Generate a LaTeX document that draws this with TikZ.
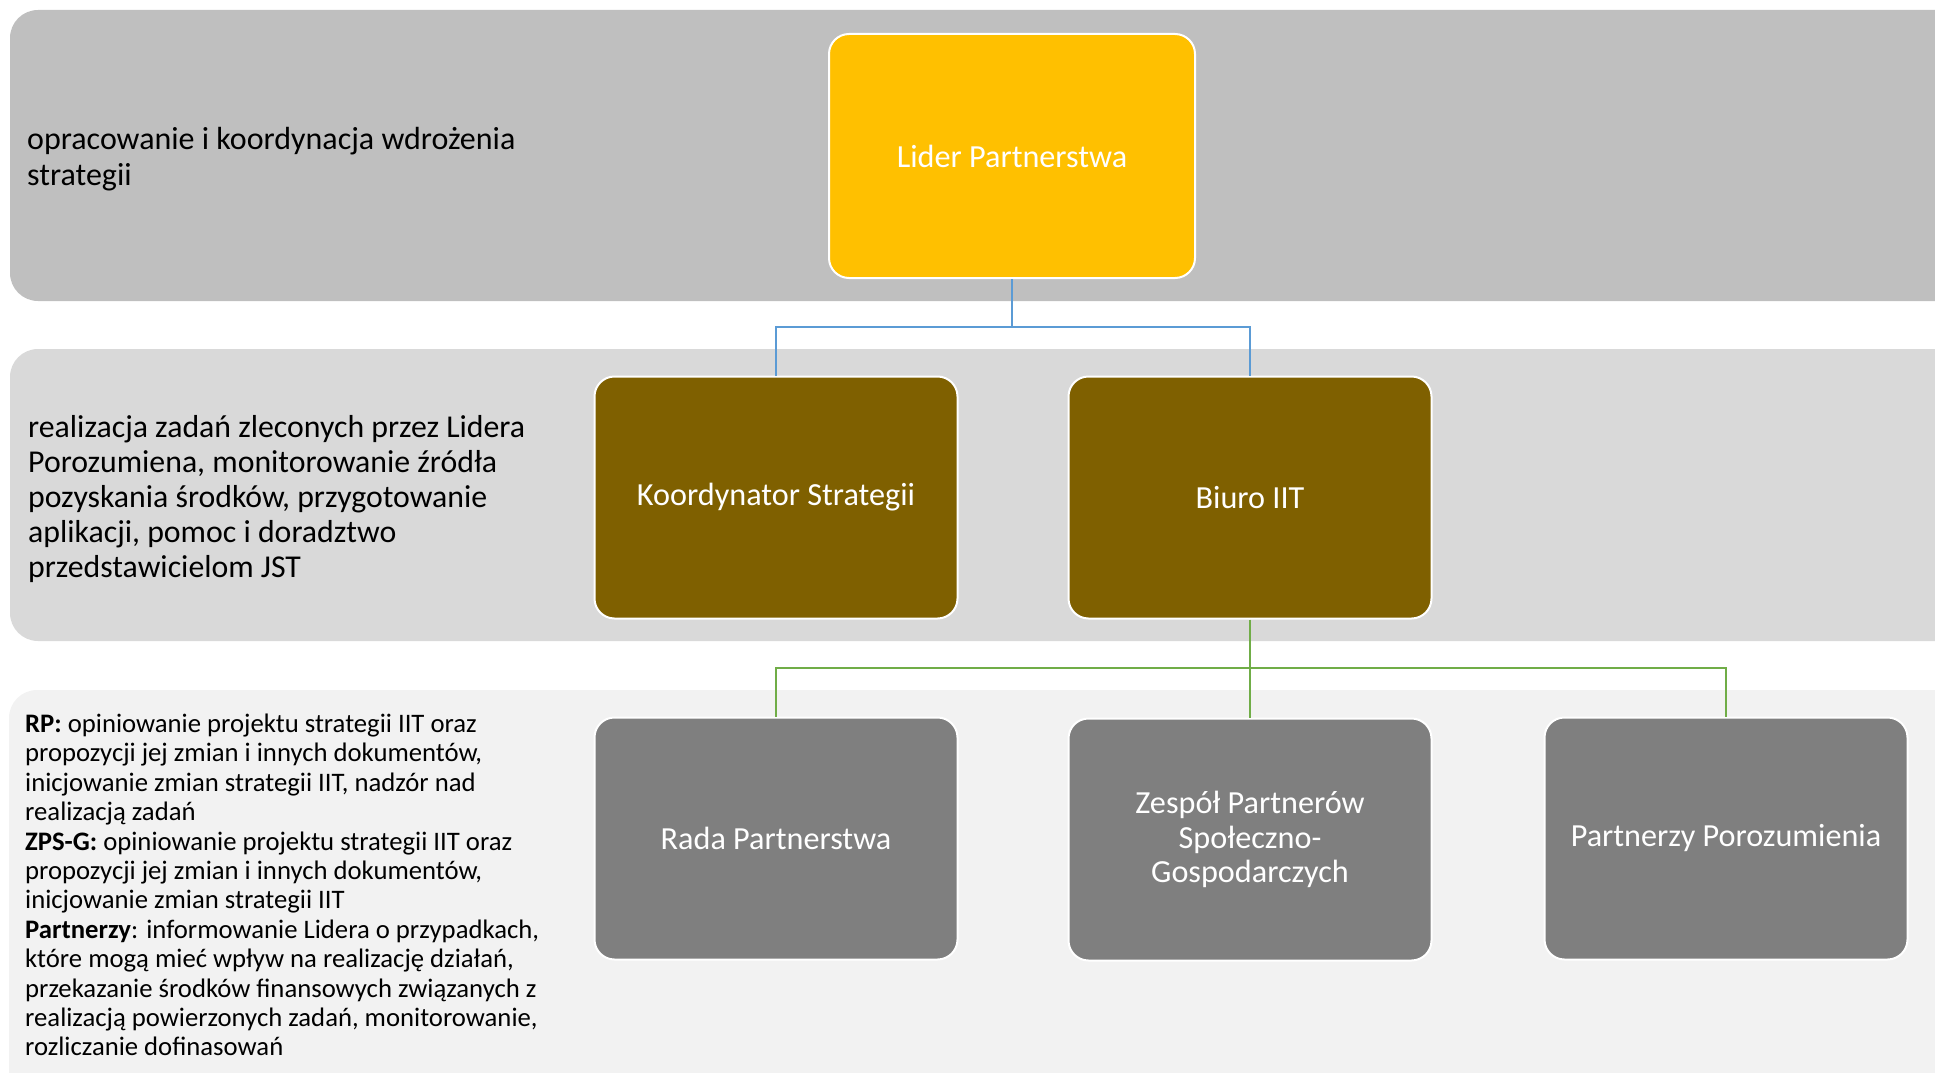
\documentclass[tikz,border=0pt]{standalone}
\usepackage{fontspec}
\setmainfont{Carlito}
\definecolor{bandA}{HTML}{BFBFBF}
\definecolor{bandB}{HTML}{D9D9D9}
\definecolor{bandC}{HTML}{F2F2F2}
\definecolor{gold}{HTML}{FFC000}
\definecolor{brownbox}{HTML}{7F6000}
\definecolor{boxgray}{HTML}{7F7F7F}
\definecolor{lineblue}{HTML}{5B9BD5}
\definecolor{linegreen}{HTML}{70AD47}
\begin{document}
\begin{tikzpicture}[x=1pt,y=-1pt,
  band/.style={rounded corners=28pt},
  orgbox/.style={draw=white, line width=2pt, rounded corners=20pt, minimum width=363pt, minimum height=242pt, text=white, font=\fontsize{32.2}{34.6}\selectfont, align=center, inner sep=0pt},
  conn/.style={line width=2.5pt},
  desc/.style={anchor=west, align=left, inner sep=0pt, text=black}]
\useasboundingbox (0,0) rectangle (1935,1073);
\fill[bandA, band] (10,10) rectangle (1965,301);
\fill[bandB, band] (10,349) rectangle (1965,641);
\fill[bandC, band] (9,690) rectangle (1965,1100);

\node[desc, font=\fontsize{32}{36}\selectfont] (t1) at (27,159) {opracowanie i koordynacja wdrożenia\\strategii};
\node[desc, font=\fontsize{31.8}{35}\selectfont] (t2) at (28,499) {realizacja zadań zleconych przez Lidera\\Porozumiena, monitorowanie źródła\\pozyskania środków, przygotowanie\\aplikacji, pomoc i doradztwo\\przedstawicielom JST};
\node[desc, font=\fontsize{26.7}{29.4}\selectfont] (t3) at (25,885) {\textbf{RP:} opiniowanie projektu strategii IIT oraz\\propozycji jej zmian i innych dokumentów,\\inicjowanie zmian strategii IIT, nadzór nad\\realizacją zadań\\\textbf{ZPS-G:} opiniowanie projektu strategii IIT oraz\\propozycji jej zmian i innych dokumentów,\\inicjowanie zmian strategii IIT\\\textbf{Partnerzy}: informowanie Lidera o przypadkach,\\które mogą mieć wpływ na realizację działań,\\przekazanie środków finansowych związanych z\\realizacją powierzonych zadań, monitorowanie,\\rozliczanie dofinasowań};

\node[orgbox, fill=gold, minimum width=366pt, minimum height=244pt] (lider) at (1012,156) {Lider Partnerstwa};
\node[orgbox, fill=brownbox] (koord) at (776,497.5) {Koordynator Strategii};
\node[orgbox, fill=brownbox] (biuro) at (1250,497.5) {Biuro IIT};
\node[orgbox, fill=boxgray] (rada) at (776,838.5) {Rada Partnerstwa};
\node[orgbox, fill=boxgray] (zesp) at (1250,839.5) {Zespół Partnerów\\Społeczno-\\Gospodarczych};
\node[orgbox, fill=boxgray] (partn) at (1726,838.5) {Partnerzy Porozumienia};

\coordinate (bj) at (1012,327);
\coordinate (gj) at (1250,668);
\draw[conn, lineblue] (lider.south) -- (bj) -| (koord.north);
\draw[conn, lineblue] (bj) -| (biuro.north);
\draw[conn, linegreen] (biuro.south) -- (gj) -| (rada.north);
\draw[conn, linegreen] (gj) -| (partn.north);
\draw[conn, linegreen] (gj) -- (zesp.north);
\end{tikzpicture}
\end{document}
